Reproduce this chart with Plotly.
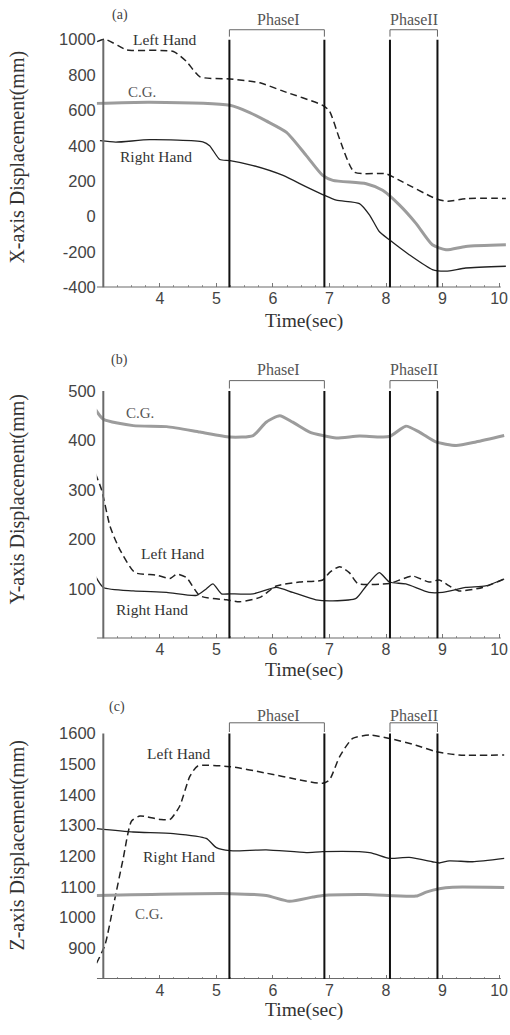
import plotly.graph_objects as go

# ---------------- data ----------------
# Panel (a) X-axis displacement
a_left_t = [2.89, 3.03, 3.41, 3.53, 4.24, 4.47, 4.71, 5.24, 5.77, 6.18, 6.88, 7.0, 7.18, 7.44, 8.0, 8.24, 8.88, 9.09, 9.41, 10.12]
a_left_v = [989, 1002, 942, 939, 933, 877, 790, 778, 756, 709, 629, 597, 438, 252, 242, 205, 102, 87, 102, 103]
a_cg_t = [2.88, 3.82, 5.24, 5.59, 5.88, 6.24, 6.59, 6.88, 7.06, 7.65, 7.94, 8.24, 8.53, 8.82, 9.06, 9.41, 10.12]
a_cg_v = [640, 647, 629, 588, 541, 476, 345, 233, 205, 186, 149, 65, -38, -159, -187, -168, -159]
a_right_t = [2.94, 3.22, 3.82, 4.76, 4.88, 5.06, 5.24, 5.65, 6.18, 6.59, 6.88, 7.12, 7.53, 7.71, 7.88, 8.06, 8.41, 8.82, 9.06, 9.41, 10.12]
a_right_v = [429, 421, 435, 423, 401, 323, 317, 289, 233, 168, 125, 93, 74, 9, -84, -131, -215, -299, -308, -290, -280]

# Panel (b) Y-axis displacement
b_cg_t = [2.86, 3.0, 3.53, 4.12, 4.71, 5.24, 5.65, 5.88, 6.12, 6.35, 6.65, 6.88, 7.12, 7.53, 8.06, 8.35, 8.59, 8.88, 9.24, 9.59, 10.09]
b_cg_v = [463, 443, 430, 428, 417, 407, 410, 437, 450, 437, 417, 410, 405, 409, 408, 429, 417, 397, 390, 397, 410]
b_left_t = [2.86, 2.97, 3.12, 3.29, 3.56, 3.94, 4.18, 4.3, 4.47, 4.71, 5.18, 5.41, 5.77, 6.06, 6.47, 6.88, 7.0, 7.18, 7.35, 7.5, 8.06, 8.24, 8.47, 8.76, 8.94, 9.12, 9.29, 9.71, 10.09]
b_left_v = [333, 300, 226, 180, 133, 128, 121, 130, 123, 86, 78, 74, 83, 106, 114, 118, 133, 145, 133, 111, 111, 118, 126, 114, 118, 106, 96, 103, 120]
b_right_t = [2.86, 3.0, 3.53, 4.12, 4.65, 4.82, 4.94, 5.09, 5.24, 5.65, 6.06, 6.35, 6.76, 7.06, 7.47, 7.65, 7.88, 8.06, 8.35, 8.76, 9.0, 9.41, 9.76, 10.09]
b_right_v = [126, 103, 96, 93, 87, 100, 110, 90, 90, 90, 103, 93, 78, 76, 81, 106, 133, 114, 110, 93, 93, 103, 106, 120]

# Panel (c) Z-axis displacement
c_left_t = [2.88, 3.03, 3.18, 3.35, 3.5, 3.65, 4.0, 4.18, 4.35, 4.53, 4.67, 5.24, 5.88, 6.47, 6.88, 7.0, 7.18, 7.41, 7.71, 8.06, 8.53, 8.88, 9.29, 10.09]
c_left_v = [851, 911, 1040, 1191, 1315, 1331, 1320, 1320, 1363, 1460, 1494, 1492, 1471, 1449, 1438, 1449, 1525, 1584, 1595, 1584, 1562, 1541, 1530, 1530]
c_right_t = [2.88, 3.53, 4.24, 4.82, 5.0, 5.24, 5.88, 6.59, 6.88, 7.71, 8.06, 8.41, 8.82, 8.94, 9.12, 9.53, 10.09]
c_right_v = [1290, 1279, 1274, 1258, 1228, 1218, 1221, 1212, 1215, 1212, 1193, 1196, 1182, 1178, 1185, 1182, 1193]
c_cg_t = [2.88, 5.24, 5.88, 6.29, 6.71, 6.88, 7.65, 8.53, 8.71, 8.94, 9.18, 10.09]
c_cg_v = [1072, 1078, 1072, 1053, 1067, 1072, 1075, 1070, 1083, 1094, 1099, 1098]

phase_times = [5.23, 6.91, 8.07, 8.91]
phase_names = ["PhaseI", "PhaseII"]
x_ticks = [4, 5, 6, 7, 8, 9, 10]
a_ticks = [-400, -200, 0, 200, 400, 600, 800, 1000]
b_ticks = [100, 200, 300, 400, 500]
c_ticks = [900, 1000, 1100, 1200, 1300, 1400, 1500, 1600]
y_titles = ["X-axis Displacement(mm)", "Y-axis Displacement(mm)", "Z-axis Displacement(mm)"]
panel_tags = ["(a)", "(b)", "(c)"]

# ---------------- figure ----------------
W, H = 510, 1035
SERIF = "Liberation Serif, Times New Roman, serif"
SANS = "Liberation Sans, Arial, sans-serif"
DARK = "#222222"
GRAY = "#9c9c9c"


def PX(px):
    return px / W


def PY(py):
    return 1 - py / H


fig = go.Figure()

panels = [
    dict(xa="x", ya="y", yr=[-400, 1156.8], dom=(290, 12), ticks=a_ticks, top=1000, br=1056, brf=1017,
         series=[(a_left_t, a_left_v, "left"), (a_cg_t, a_cg_v, "cg"), (a_right_t, a_right_v, "right")]),
    dict(xa="x2", ya="y2", yr=[0, 579], dom=(644, 355), ticks=b_ticks, top=500, br=521, brf=505,
         series=[(b_cg_t, b_cg_v, "cg"), (b_left_t, b_left_v, "left"), (b_right_t, b_right_v, "right")]),
    dict(xa="x3", ya="y3", yr=[800, 1719.5], dom=(987.5, 703), ticks=c_ticks, top=1600, br=1635, brf=1605,
         series=[(c_left_t, c_left_v, "left"), (c_right_t, c_right_v, "right"), (c_cg_t, c_cg_v, "cg")]),
]

styles = {
    "left": dict(color=DARK, width=1.5, dash="7px,4px"),
    "cg": dict(color=GRAY, width=3),
    "right": dict(color=DARK, width=1.3),
}
names = {"left": "Left Hand", "cg": "C.G.", "right": "Right Hand"}

XR = [2.885, 10.14]
shapes = []
for i, p in enumerate(panels):
    sfx = "" if i == 0 else str(i + 1)
    for t, v, kind in p["series"]:
        fig.add_trace(go.Scatter(x=t, y=v, mode="lines", name=names[kind],
                                 line=dict(shape="spline", smoothing=0.6, **styles[kind]),
                                 xaxis=p["xa"], yaxis=p["ya"], showlegend=False))
    ybot = p["yr"][0]
    xr, yr = p["xa"], p["ya"]
    shapes.append(dict(type="line", xref=xr, yref=yr, x0=XR[0], x1=10.03, y0=ybot, y1=ybot,
                       line=dict(color="#6a6a6a", width=2)))
    shapes.append(dict(type="line", xref=xr, yref=yr, x0=3, x1=3, y0=ybot, y1=p["top"],
                       line=dict(color="#6a6a6a", width=2)))
    for pt in phase_times:
        shapes.append(dict(type="line", xref=xr, yref=yr, x0=pt, x1=pt, y0=ybot, y1=p["top"],
                           line=dict(color="#111111", width=2)))
    for k in range(2):
        x0, x1 = phase_times[2 * k], phase_times[2 * k + 1]
        shapes.append(dict(type="path", xref=xr, yref=yr,
                           path=f"M {x0},{p['brf']} L {x0},{p['br']} L {x1},{p['br']} L {x1},{p['brf']}",
                           line=dict(color="#666666", width=1)))
    xkey = "xaxis" + sfx
    ykey = "yaxis" + sfx
    fig.layout[xkey] = dict(domain=[PX(97), PX(508)], range=XR, anchor=p["ya"],
                            tickvals=x_ticks, ticktext=[str(v) for v in x_ticks],
                            showgrid=False, zeroline=False, showline=False,
                            ticks="inside", ticklen=4, tickcolor="#777",
                            ticklabeloverflow="allow",
                            minor=dict(ticks="inside", ticklen=2, dtick=0.25, tick0=3, tickcolor="#999"),
                            tickfont=dict(family=SANS, size=16, color="#444"))
    fig.layout[ykey] = dict(domain=[PY(p["dom"][0]), PY(p["dom"][1])], range=p["yr"], anchor=p["xa"],
                            tickvals=p["ticks"], ticktext=[str(v) for v in p["ticks"]],
                            showgrid=False, zeroline=False, showline=False, ticks="",
                            ticklabeloverflow="allow",
                            tickfont=dict(family=SANS, size=16.5, color="#444"))

annos = []


def add_text(text, px, py, size, family=SERIF, color="#333", angle=0):
    annos.append(dict(text=text, x=PX(px), y=PY(py), xref="paper", yref="paper", showarrow=False,
                      xanchor="center", yanchor="middle", textangle=angle,
                      font=dict(family=family, size=size, color=color)))


# axis titles
add_text(y_titles[0], 18, 158, 20, color="#333", angle=-90)
add_text(y_titles[1], 18, 503, 20, color="#333", angle=-90)
add_text(y_titles[2], 18, 852, 20, color="#333", angle=-90)
for py in (324, 676, 1019):
    add_text("Time(sec)", 305, py, 19.5, color="#333")

# panel tags
add_text(panel_tags[0], 120, 15, 14, color="#444")
add_text(panel_tags[1], 120, 363, 14, color="#444")
add_text(panel_tags[2], 117, 713, 14, color="#444")

# phase labels
for py in (20, 373, 722):
    add_text(phase_names[0], 279, py, 16, color="#555")
    add_text(phase_names[1], 415, py, 16, color="#555")

# curve labels
add_text("Left Hand", 165, 40, 15.5)
add_text("C.G.", 142, 93, 15, color="#555")
add_text("Right Hand", 156, 158, 15.5)
add_text("C.G.", 140, 417, 15, color="#555")
add_text("Left Hand", 173, 558, 15.5)
add_text("Right Hand", 152, 615, 15.5)
add_text("Left Hand", 179, 760, 15.5)
add_text("Right Hand", 179, 864, 15.5)
add_text("C.G.", 149, 922, 15, color="#555")

fig.update_layout(width=W, height=H, margin=dict(l=0, r=0, t=0, b=0),
                  paper_bgcolor="white", plot_bgcolor="white",
                  shapes=shapes, annotations=annos, showlegend=False)

# remove the page's default body margin so the 510x1035 figure fills the window exactly
fig.write_html("out.html", config={"displayModeBar": False},
               post_script="document.body.style.margin='0px';document.body.style.overflow='hidden';")
